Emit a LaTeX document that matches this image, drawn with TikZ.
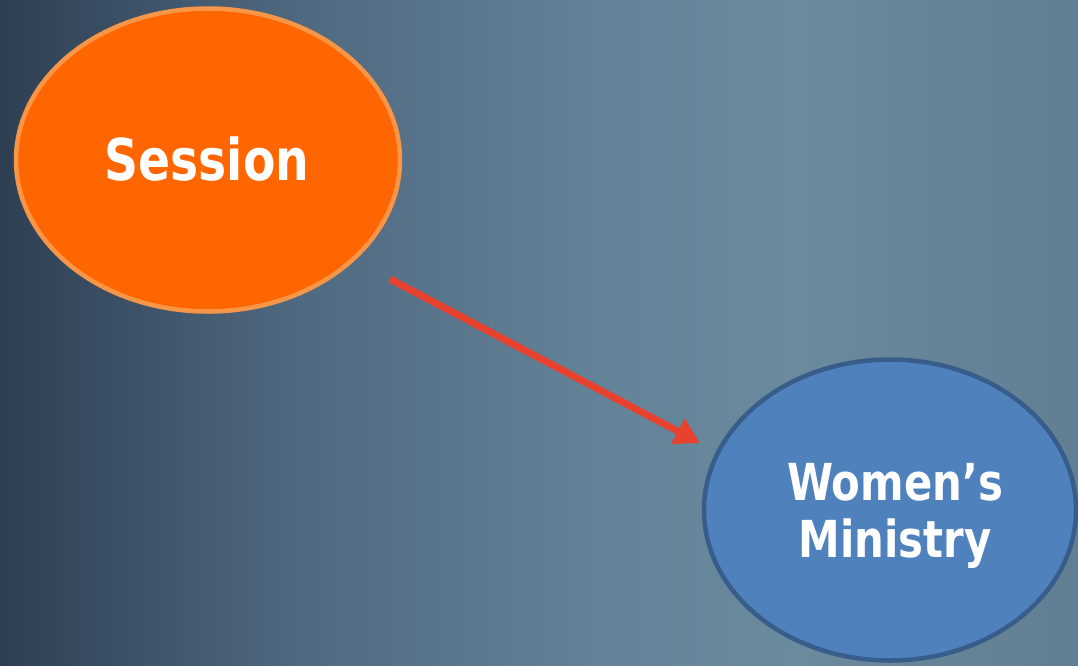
\documentclass[tikz,border=0pt]{standalone}
\usepackage{fontspec}
\newfontfamily\labelfont{DejaVu Sans}[FakeStretch=0.82]
\usetikzlibrary{shapes.geometric,arrows.meta}
\definecolor{bgA}{RGB}{46,63,82}
\definecolor{bgB}{RGB}{80,105,128}
\definecolor{bgC}{RGB}{100,131,152}
\definecolor{bgD}{RGB}{106,138,158}
\definecolor{bgE}{RGB}{98,126,146}
\definecolor{orangefill}{RGB}{255,102,0}
\definecolor{orangeline}{RGB}{247,150,70}
\definecolor{bluefill}{RGB}{79,129,189}
\definecolor{blueline}{RGB}{56,93,138}
\definecolor{arrowred}{RGB}{232,65,46}
\pgfdeclarehorizontalshading{bgshade}{100bp}{color(0bp)=(bgA); color(25bp)=(bgA); color(38.9bp)=(bgB); color(52.8bp)=(bgC); color(62.1bp)=(bgD); color(75bp)=(bgE); color(100bp)=(bgE)}
\tikzset{
  bubble/.style={ellipse, draw, line width=4.5pt, inner sep=0pt},
  bubbletext/.style={text=white, align=center, inner sep=0pt, font=\labelfont\bfseries},
  link/.style={draw=arrowred, line width=7pt, -{Triangle[length=25pt,width=27pt]}}
}
\begin{document}
\begin{tikzpicture}[x=1pt,y=-1pt]
\useasboundingbox (0,0) rectangle (1078,665);
\shade[shading=bgshade] (0,0) rectangle (1078,665);
\node[bubble, fill=orangefill, draw=orangeline, minimum width=384pt, minimum height=303pt] (s) at (208,160) {};
\node[bubbletext, anchor=base, font=\labelfont\bfseries\fontsize{57.6}{60}\selectfont] (st) at (207,180) {Session};
\node[bubble, fill=bluefill, draw=blueline, minimum width=372pt, minimum height=301pt] (w) at (890,510) {};
\node[bubbletext, font=\labelfont\bfseries\fontsize{51}{57}\selectfont] (wt) at (895,516) {Women’s\\Ministry};
\coordinate (a1) at (390,279);
\coordinate (a2) at (700,443);
\draw[link] (a1) -- (a2);
\end{tikzpicture}
\end{document}
